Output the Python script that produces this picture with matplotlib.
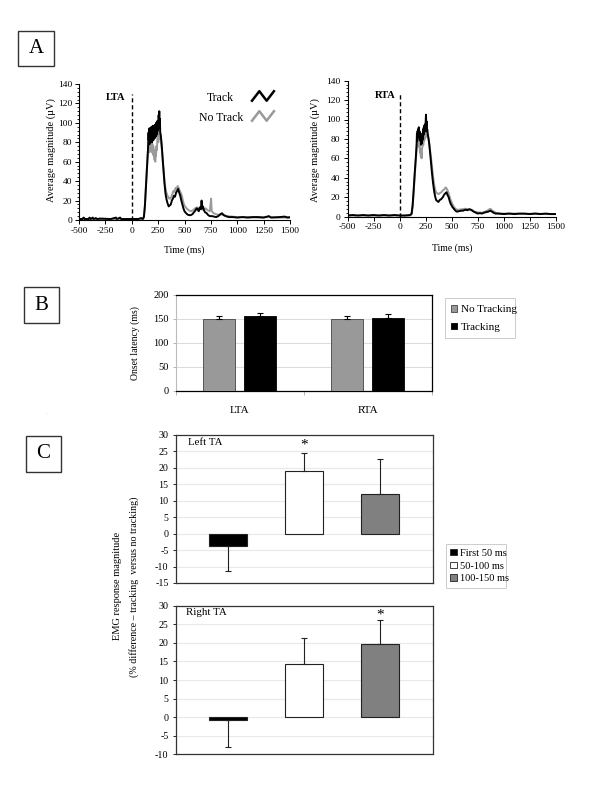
import numpy as np
import matplotlib
matplotlib.use('Agg')
import matplotlib.pyplot as plt
from matplotlib.patches import Patch, Rectangle
from matplotlib.lines import Line2D
from matplotlib.ticker import MultipleLocator

plt.rcParams['font.family'] = ['Liberation Serif', 'DejaVu Serif']
plt.rcParams['axes.unicode_minus'] = False

# ---------------- Panel A data: (time ms, magnitude uV) ----------------
lta_track = [(-500, 1), (-470, 1), (-455, 2.5), (-445, 1), (-410, 1), (-400, 2.5), (-390, 1), (-370, 2.5),
             (-360, 1), (-340, 2), (-330, 1), (-300, 1.5), (-200, 1), (-150, 2.5), (-140, 1), (-110, 2.5),
             (-100, 1), (0, 1), (60, 1), (90, 2), (105, 1), (115, 3), (125, 15), (135, 35), (145, 55),
             (155, 75), (159, 90), (162, 82), (165, 94), (168, 78), (171, 92), (174, 84), (177, 95),
             (180, 80), (183, 91), (186, 86), (189, 96), (192, 80), (195, 90), (198, 84), (201, 97),
             (204, 82), (207, 93), (210, 86), (213, 95), (216, 84), (219, 98), (222, 88), (225, 94),
             (228, 86), (231, 100), (234, 90), (237, 96), (240, 88), (243, 102), (246, 92), (249, 98),
             (252, 94), (255, 108), (258, 98), (261, 112), (264, 96), (267, 104), (270, 90), (274, 88),
             (278, 84), (282, 80), (290, 68), (300, 52), (310, 38), (320, 27), (330, 21), (340, 17),
             (350, 14), (360, 15), (370, 16), (380, 20), (390, 22), (400, 25), (410, 24), (420, 28),
             (430, 30), (440, 32), (450, 28), (460, 25), (470, 20), (480, 16), (490, 12), (500, 9),
             (515, 7), (530, 5.5), (545, 5), (560, 5), (575, 6), (590, 8), (605, 10), (615, 12),
             (625, 11), (635, 9), (645, 13), (655, 11), (662, 20), (668, 12), (675, 14), (685, 10),
             (695, 8), (710, 7), (725, 5), (740, 4), (760, 4), (780, 3.5), (800, 3), (820, 4), (840, 6),
             (855, 7), (870, 5), (890, 4), (920, 3), (960, 3), (1000, 2.5), (1050, 3), (1100, 2.5),
             (1150, 3), (1200, 3), (1250, 2.5), (1300, 4), (1320, 2.5), (1400, 3), (1450, 3.5),
             (1480, 2.5), (1500, 3)]

lta_notrack = [(-500, 1), (0, 1), (100, 1), (112, 2), (122, 10), (132, 30), (142, 50), (152, 68),
               (156, 76), (159, 70), (162, 80), (165, 72), (168, 78), (171, 70), (174, 82), (177, 74),
               (180, 80), (184, 72), (188, 83), (192, 70), (196, 78), (200, 68), (204, 76), (208, 66),
               (212, 72), (216, 62), (220, 68), (223, 60), (226, 72), (230, 66), (234, 76), (238, 72),
               (242, 82), (246, 86), (250, 80), (254, 92), (258, 86), (262, 90), (266, 84), (270, 88),
               (274, 80), (278, 80), (286, 72), (294, 60), (304, 48), (314, 37), (324, 30), (335, 26),
               (345, 24), (355, 22), (365, 22), (375, 24), (385, 27), (395, 30), (405, 29), (415, 33),
               (425, 32), (435, 35), (445, 33), (455, 30), (465, 28), (475, 25), (485, 20), (495, 16),
               (505, 14), (520, 12), (540, 10), (560, 9), (580, 10), (600, 12), (620, 13), (640, 11),
               (660, 12), (680, 10), (700, 12), (720, 10), (740, 9), (752, 22), (758, 9), (775, 7),
               (800, 6), (830, 5), (860, 6), (900, 4), (1000, 3), (1100, 3), (1200, 2.5), (1300, 3),
               (1400, 2.5), (1500, 2.5)]

rta_track = [(-500, 1), (-450, 1.5), (-400, 1), (-350, 1.5), (-300, 1), (-250, 1.5), (-200, 1),
             (-150, 1.5), (-100, 1), (-50, 1.5), (0, 1), (50, 1), (100, 1.5), (115, 3), (125, 12),
             (135, 28), (145, 45), (155, 60), (163, 75), (166, 85), (169, 78), (172, 88), (175, 82),
             (178, 90), (181, 84), (184, 92), (187, 82), (190, 88), (193, 80), (196, 86), (199, 78),
             (202, 82), (205, 74), (208, 80), (211, 75), (214, 82), (217, 78), (220, 86), (223, 80),
             (226, 90), (229, 84), (232, 92), (235, 86), (238, 94), (241, 88), (244, 95), (247, 88),
             (250, 98), (253, 105), (256, 92), (259, 98), (262, 88), (265, 90), (270, 85), (278, 80),
             (285, 74), (292, 66), (300, 57), (310, 45), (320, 35), (330, 27), (340, 21), (350, 17),
             (360, 16), (372, 15), (385, 17), (400, 18), (415, 20), (430, 23), (440, 24), (450, 25),
             (460, 22), (470, 20), (480, 16), (490, 13), (505, 10), (520, 8), (535, 6), (550, 5),
             (570, 5.5), (590, 6), (610, 6), (630, 7), (650, 6.5), (670, 7.5), (690, 6.5), (710, 5),
             (730, 4), (750, 3), (770, 3.5), (790, 3), (810, 4), (830, 4.5), (850, 5), (870, 6),
             (885, 5), (900, 4), (920, 3), (950, 3), (1000, 2.5), (1050, 3), (1100, 2.5), (1150, 3),
             (1200, 3), (1250, 2.5), (1300, 3), (1350, 2.5), (1400, 3), (1450, 2.5), (1500, 2.5)]

rta_notrack = [(-500, 1), (0, 1), (100, 1), (115, 2), (125, 10), (135, 25), (145, 42), (155, 58),
               (163, 68), (167, 76), (171, 72), (175, 80), (179, 76), (183, 80), (187, 72), (191, 74),
               (195, 66), (199, 70), (203, 62), (207, 66), (211, 60), (215, 70), (219, 72), (223, 78),
               (227, 74), (231, 82), (235, 78), (239, 84), (243, 80), (247, 86), (251, 82), (255, 88),
               (259, 84), (263, 86), (267, 82), (272, 82), (280, 78), (290, 70), (300, 62), (310, 52),
               (320, 42), (330, 34), (340, 28), (350, 25), (360, 24), (372, 23), (385, 24), (400, 25),
               (415, 27), (430, 28), (440, 30), (450, 29), (460, 27), (470, 24), (480, 20), (490, 17),
               (505, 13), (520, 10), (535, 8), (550, 7), (570, 7), (600, 7.5), (630, 8), (660, 7.5),
               (690, 7), (720, 5), (760, 4), (800, 4), (840, 6), (870, 8), (890, 6), (920, 4), (960, 3),
               (1000, 3), (1100, 3), (1200, 2.5), (1300, 3), (1400, 2.5), (1500, 2.5)]

time_ticks = [-500, -250, 0, 250, 500, 750, 1000, 1250, 1500]
mag_ticks = [0, 20, 40, 60, 80, 100, 120, 140]

# ---------------- Panel B data ----------------
b_categories = ['LTA', 'RTA']
b_no_tracking = [151, 149]
b_no_tracking_err = [6, 7]
b_tracking = [157, 153]
b_tracking_err = [5.5, 7]
b_series_labels = ['No Tracking', 'Tracking']

# ---------------- Panel C data ----------------
c_windows = ['First 50 ms', '50-100 ms', '100-150 ms']
c_left_vals = [-3.8, 19.1, 12.2]
c_left_err = [7.5, 5.3, 10.4]
c_left_sig = [False, True, False]
c_right_vals = [-0.9, 14.2, 19.6]
c_right_err = [7.1, 7.0, 6.5]
c_right_sig = [False, False, True]

W, H = 600, 785
fig = plt.figure(figsize=(6, 7.85), dpi=100)


def add_ax(x0, y0, x1, y1):
    return fig.add_axes([x0 / W, 1 - y1 / H, (x1 - x0) / W, (y1 - y0) / H])


def panel_box(x0, y0, x1, y1, letter):
    fig.patches.append(Rectangle((x0 / W, 1 - y1 / H), (x1 - x0) / W, (y1 - y0) / H,
                                 transform=fig.transFigure, fill=False, edgecolor='#333333', lw=1.0))
    fig.text((x0 + x1) / 2 / W, 1 - (y0 + y1) / 2 / H, letter, ha='center', va='center', fontsize=15)


# ---------------- Panel A ----------------
def trace_panel(rect, track, notrack, name, dash_top, name_xy, ylab_x, xlab_y):
    ax = add_ax(*rect)
    nt = np.array(notrack)
    tr = np.array(track)
    ax.plot(nt[:, 0], nt[:, 1], color='#9a9a9a', lw=1.4, zorder=2)
    ax.plot(tr[:, 0], tr[:, 1], color='black', lw=1.4, zorder=3)
    ax.vlines(0, 0, dash_top, colors='black', linestyles=(0, (3, 2)), lw=1.0)
    ax.text(name_xy[0], name_xy[1], name, ha='right', va='center', fontsize=7.5, fontweight='bold')
    ax.set_xlim(-500, 1500)
    ax.set_ylim(0, 140)
    ax.set_xticks(time_ticks)
    ax.set_yticks(mag_ticks)
    ax.yaxis.set_minor_locator(MultipleLocator(4))
    for s in ['top', 'right']:
        ax.spines[s].set_visible(False)
    for s in ['left', 'bottom']:
        ax.spines[s].set_linewidth(0.8)
    ax.tick_params(axis='both', which='major', labelsize=6.8, length=3, width=0.7, pad=2)
    ax.tick_params(axis='y', which='minor', length=1.5, width=0.6)
    cx = (rect[0] + rect[2]) / 2
    fig.text(cx / W, 1 - xlab_y / H, 'Time (ms)', ha='center', va='center', fontsize=7)
    fig.text(ylab_x / W, 1 - 150 / H, 'Average magnitude (µV)', ha='center', va='center',
             rotation=90, fontsize=7.5)
    return ax


axA1 = trace_panel((79, 84, 290, 220), lta_track, lta_notrack, 'LTA', 130, (-60, 126), 51.5, 250)
axA2 = trace_panel((347.5, 80.7, 556, 216.5), rta_track, rta_notrack, 'RTA', 127, (-40, 125), 315, 248)

# legend of panel A (text + zigzag icons)
axA1.text(0.668, 0.899, 'Track', transform=axA1.transAxes, ha='center', va='center', fontsize=8.5)
axA1.text(0.675, 0.75, 'No Track', transform=axA1.transAxes, ha='center', va='center', fontsize=8.5)
zx = np.array([0.0, 1 / 3, 2 / 3, 1.0])
zy = np.array([0.0, 1.0, 0.0, 1.0])
for col, y0 in [('black', 0.877), ('#9a9a9a', 0.73)]:
    axA1.add_line(Line2D(0.82 + zx * 0.104, y0 + zy * 0.07, transform=axA1.transAxes,
                         color=col, lw=1.8, clip_on=False))

# ---------------- Panel B ----------------
axB = add_ax(175.5, 295, 431.5, 391)
xb = np.arange(len(b_categories))
bw = 0.25
off = 0.16
axB.bar(xb - off, b_no_tracking, bw, color='#999999', edgecolor='#444444', lw=0.6, zorder=3,
        label=b_series_labels[0])
axB.bar(xb + off, b_tracking, bw, color='black', edgecolor='black', lw=0.6, zorder=3,
        label=b_series_labels[1])
axB.errorbar(xb - off, b_no_tracking, yerr=[np.zeros(len(xb)), b_no_tracking_err], fmt='none',
             ecolor='black', elinewidth=0.8, capsize=2.5, capthick=0.8, zorder=4)
axB.errorbar(xb + off, b_tracking, yerr=[np.zeros(len(xb)), b_tracking_err], fmt='none',
             ecolor='black', elinewidth=0.8, capsize=2.5, capthick=0.8, zorder=4)
axB.set_xlim(-0.5, len(b_categories) - 0.5)
axB.set_ylim(0, 200)
axB.set_yticks([0, 50, 100, 150, 200])
axB.set_xticks(xb)
axB.set_xticklabels(b_categories)
axB.set_xticks(np.arange(len(b_categories) + 1) - 0.5, minor=True)
axB.tick_params(axis='x', which='major', length=0, pad=11, labelsize=8)
axB.tick_params(axis='x', which='minor', length=3, width=0.6, color='#aaaaaa')
axB.tick_params(axis='y', labelsize=7.5, length=2, width=0.6, color='#aaaaaa', pad=3)
axB.grid(axis='y', color='#dcdcdc', lw=0.8, zorder=0)
axB.set_axisbelow(True)
for s in ['top', 'right', 'bottom']:
    axB.spines[s].set_color('black')
    axB.spines[s].set_linewidth(0.9)
axB.spines['left'].set_color('#bbbbbb')
axB.spines['left'].set_linewidth(0.8)
fig.text(135 / W, 1 - 343 / H, 'Onset latency (ms)', rotation=90, ha='center', va='center', fontsize=7)
legB = fig.legend(handles=[Patch(facecolor='#999999', edgecolor='#444444', lw=0.6, label=b_series_labels[0]),
                           Patch(facecolor='black', edgecolor='black', lw=0.6, label=b_series_labels[1])],
                  loc='center', bbox_to_anchor=(439 / W, 1 - 339 / H, 82 / W, 41.3 / H), mode='expand',
                  fontsize=8, handlelength=0.55, handleheight=0.55, handletextpad=0.35,
                  labelspacing=0.75, borderpad=0.6, fancybox=False, framealpha=1, edgecolor='#cccccc')
legB.get_frame().set_linewidth(0.7)


# ---------------- Panel C ----------------
c_colors = ['black', 'white', '#808080']


def emg_panel(rect, vals, errs, sig, ylim, title, title_xy, star_off):
    ax = add_ax(*rect)
    x = np.arange(len(vals))
    v = np.array(vals)
    e = np.array(errs)
    ax.bar(x, v, 0.5, color=c_colors, edgecolor='#222222', lw=0.8, zorder=3)
    lower = np.where(v < 0, e, 0)
    upper = np.where(v >= 0, e, 0)
    ax.errorbar(x, v, yerr=[lower, upper], fmt='none', ecolor='#222222', elinewidth=0.8,
                capsize=2.4, capthick=0.8, zorder=4)
    for xi, vi, ei, si in zip(x, v, e, sig):
        if si:
            ax.annotate('*', (xi, vi + ei), xytext=(0, star_off), textcoords='offset points',
                        ha='center', va='center', fontsize=11)
    ax.set_xlim(-0.685, 2.685)
    ax.set_ylim(*ylim)
    ax.set_yticks(np.arange(ylim[0], ylim[1] + 1, 5))
    ax.set_xticks([])
    ax.tick_params(axis='y', labelsize=7.2, length=2, width=0.6, pad=3)
    ax.grid(axis='y', color='#e8e8e8', lw=0.8, zorder=0)
    ax.set_axisbelow(True)
    for s in ax.spines.values():
        s.set_color('#333333')
        s.set_linewidth(0.9)
    ax.text(title_xy[0], title_xy[1], title, transform=ax.transAxes, ha='left', va='center', fontsize=7.8)
    return ax


axC1 = emg_panel((175.5, 435, 432.5, 583), c_left_vals, c_left_err, c_left_sig, (-15, 30),
                 'Left TA', (0.05, 0.952), 6)
axC2 = emg_panel((175.5, 605.7, 432.5, 754.3), c_right_vals, c_right_err, c_right_sig, (-10, 30),
                 'Right TA', (0.04, 0.955), 4)

fig.text(117 / W, 1 - 586 / H, 'EMG response magnitude', rotation=90, ha='center', va='center', fontsize=7.5)
fig.text(134.5 / W, 1 - 587 / H, '(% difference \u2013 tracking  versus no tracking)', rotation=90,
         ha='center', va='center', fontsize=7.2)

legC = fig.legend(handles=[Patch(facecolor=c, edgecolor='#222222', lw=0.6, label=l)
                           for c, l in zip(c_colors, c_windows)],
                  loc='center', bbox_to_anchor=(441 / W, 1 - 590 / H, 70 / W, 48 / H), mode='expand',
                  fontsize=7.5, handlelength=0.6, handleheight=0.6, handletextpad=0.35,
                  labelspacing=0.38, borderpad=0.4, fancybox=False, framealpha=1, edgecolor='#cccccc')
legC.get_frame().set_linewidth(0.7)

# ---------------- Panel letters ----------------
panel_box(18, 31, 54, 66, 'A')
panel_box(24, 287, 59, 323, 'B')
panel_box(26, 436, 61, 472, 'C')
fig.text(46 / W, 1 - 413 / H, '.', color='#bbbbbb', fontsize=5, ha='center', va='center')

fig.savefig('out.png', dpi=100)
